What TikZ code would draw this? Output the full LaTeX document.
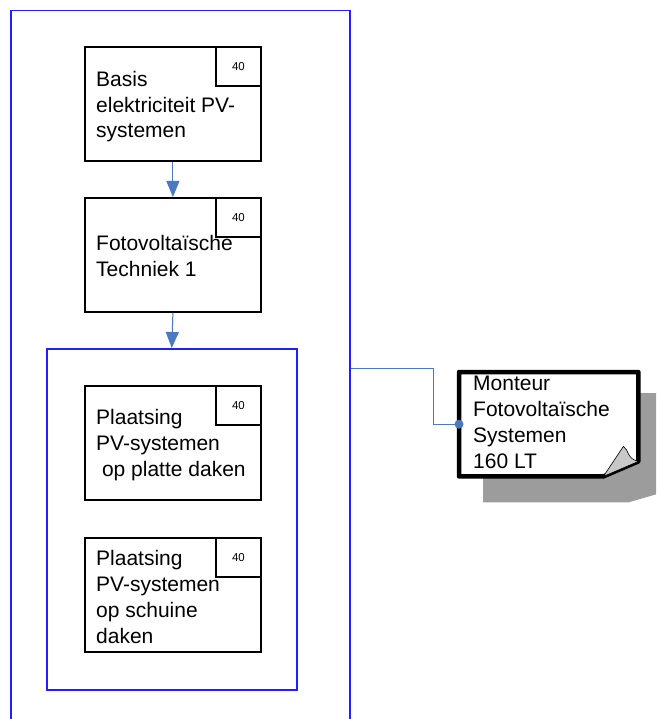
\documentclass[tikz,border=0pt]{standalone}
\usepackage{fontspec}
\setmainfont{Liberation Sans}
\usetikzlibrary{arrows.meta, positioning}
\definecolor{framblue}{HTML}{1F1FFF}
\definecolor{linkblue}{HTML}{4A78C2}
\definecolor{shadowgray}{HTML}{9C9C9C}
\definecolor{foldgray}{HTML}{C8C8C8}
\tikzset{x=1pt,y=-1pt}
\tikzset{
  frame/.style={draw=framblue, line width=1.5pt, anchor=north west, inner sep=0pt},
  course/.style={draw, line width=1.8pt, anchor=north west, inner sep=0pt,
    minimum width=176pt, minimum height=114pt},
  hours/.style={draw, line width=1.8pt, anchor=north east, inner sep=0pt,
    minimum width=45pt, minimum height=39pt, font=\fontsize{11.5}{13}\selectfont},
  label/.style={anchor=base west, inner sep=0pt, align=left,
    font=\fontsize{21}{25.8}\selectfont},
  flow/.style={draw=linkblue, line width=1pt, -{Triangle[length=16pt,width=13pt]}},
  link/.style={draw=linkblue, line width=0.8pt}
}

\begin{document}
\begin{tikzpicture}
\clip (0,0) rectangle (656,719);
\fill[white] (0,0) rectangle (656,719);
% outer and inner frames
\node[frame, minimum width=339pt, minimum height=800pt] (route) at (10,10) {};
\node[frame, minimum width=250pt, minimum height=341pt] (group) at (46,348) {};

% courses (label anchor = baseline of last line)
\node[course] (basis) at (84,46) {};
\node[hours] (basisnr) at (basis.north east) {40};
\node[label] (basistxt) at ([xshift=12pt,yshift=-92pt]basis.north west)
  {Basis\\elektriciteit PV-\\systemen};

\node[course] (techniek) at (84,197) {};
\node[hours] (technieknr) at (techniek.north east) {40};
\node[label] (techniektxt) at ([xshift=12pt,yshift=-79pt]techniek.north west)
  {Fotovoltaïsche\\Techniek 1};

\node[course] (platte) at (84,385) {};
\node[hours] (plattenr) at (platte.north east) {40};
\node[label] (plattetxt) at ([xshift=12pt,yshift=-91pt]platte.north west)
  {Plaatsing\\PV-systemen\\\ op platte daken};

\node[course] (schuine) at (84,537) {};
\node[hours] (schuinenr) at (schuine.north east) {40};
\node[label] (schuinetxt) at ([xshift=12pt,yshift=-106pt]schuine.north west)
  {Plaatsing\\PV-systemen\\op schuine\\daken};

\draw[flow] (basis.south) -- (techniek.north);
\draw[flow] (techniek.south) -- (group.north);

% qualification card
\node[anchor=north west, inner sep=0pt, minimum width=179pt, minimum height=104pt]
  (card) at (459,372) {};
\fill[shadowgray]
  ([xshift=24pt,yshift=-21pt]card.north west) -- ([xshift=62pt,yshift=-21pt]card.north east)
  -- ([xshift=62pt,yshift=-5pt]card.south east) -- ([xshift=-10pt,yshift=-26pt]card.south east)
  -- ([xshift=24pt,yshift=-26pt]card.south west) -- cycle;
\draw[line width=4.5pt, fill=white, line join=round]
  (card.north west) -- (card.north east) -- ([yshift=15pt]card.south east)
  -- ([xshift=-35pt]card.south east) -- (card.south west) -- cycle;
\filldraw[fill=foldgray, draw=black, line width=0.6pt]
  ([xshift=-35pt]card.south east) -- ([xshift=-15pt,yshift=30pt]card.south east)
  .. controls ([xshift=-9pt,yshift=26pt]card.south east) and ([xshift=-12pt,yshift=18pt]card.south east)
  .. ([yshift=15pt]card.south east) -- cycle;
\node[label] (cardtxt) at ([xshift=14pt,yshift=-96pt]card.north west)
  {Monteur\\Fotovoltaïsche\\Systemen\\160 LT};

\coordinate (tap) at (route.east |- 0,368);
\draw[link] (tap) -- ++(83,0) |- (card.west);
\fill[linkblue] (card.west) circle (4.5pt);
\end{tikzpicture}
\end{document}
